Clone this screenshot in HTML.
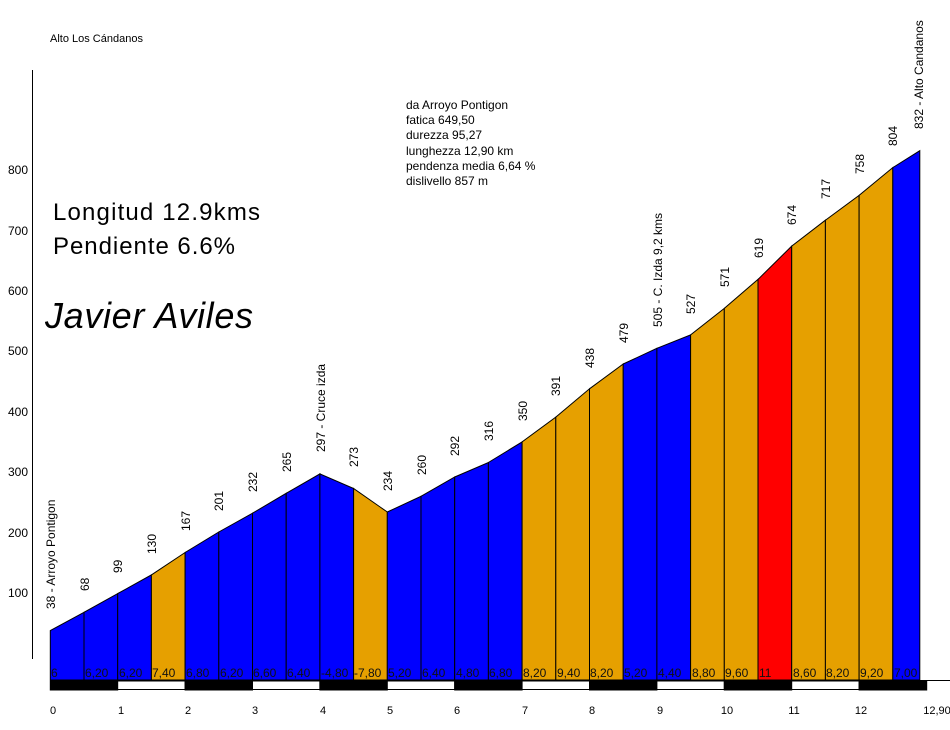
<!DOCTYPE html>
<html><head><meta charset="utf-8"><style>body{margin:0;background:#fff}svg{display:block}</style></head>
<body>
<svg width="950" height="730" viewBox="0 0 950 730" xmlns="http://www.w3.org/2000/svg" font-family="Liberation Sans, Arial, sans-serif">
<rect width="950" height="730" fill="#fff"/>
<text x="50" y="42" font-size="11">Alto Los Cándanos</text>
<line x1="32.5" y1="70" x2="32.5" y2="659" stroke="#000"/>
<g font-size="12" text-anchor="end">
<text x="28" y="597">100</text><text x="28" y="537">200</text><text x="28" y="476">300</text><text x="28" y="416">400</text>
<text x="28" y="355">500</text><text x="28" y="295">600</text><text x="28" y="235">700</text><text x="28" y="174">800</text>
</g>
<text x="53" y="220" font-size="24" textLength="207">Longitud 12.9kms</text>
<text x="53" y="254" font-size="24" textLength="182">Pendiente 6.6%</text>
<text x="45" y="328" font-size="36" font-style="italic" textLength="208">Javier Aviles</text>
<g font-size="12">
<text x="406" y="109">da Arroyo Pontigon</text>
<text x="406" y="124">fatica 649,50</text>
<text x="406" y="139">durezza 95,27</text>
<text x="406" y="155">lunghezza 12,90 km</text>
<text x="406" y="170">pendenza media 6,64 %</text>
<text x="406" y="185">dislivello 857 m</text>
</g>
<g stroke="#000" stroke-width="1">
<polygon points="50.3,680 50.3,630.5 84.0,612.3 84.0,680" fill="#0000ff"/>
<polygon points="84.0,680 84.0,612.3 117.7,593.6 117.7,680" fill="#0000ff"/>
<polygon points="117.7,680 117.7,593.6 151.4,574.9 151.4,680" fill="#0000ff"/>
<polygon points="151.4,680 151.4,574.9 185.1,552.5 185.1,680" fill="#e6a000"/>
<polygon points="185.1,680 185.1,552.5 218.8,532.0 218.8,680" fill="#0000ff"/>
<polygon points="218.8,680 218.8,532.0 252.5,513.2 252.5,680" fill="#0000ff"/>
<polygon points="252.5,680 252.5,513.2 286.2,493.3 286.2,680" fill="#0000ff"/>
<polygon points="286.2,680 286.2,493.3 319.9,473.9 319.9,680" fill="#0000ff"/>
<polygon points="319.9,680 319.9,473.9 353.6,488.5 353.6,680" fill="#0000ff"/>
<polygon points="353.6,680 353.6,488.5 387.3,512.0 387.3,680" fill="#e6a000"/>
<polygon points="387.3,680 387.3,512.0 421.0,496.3 421.0,680" fill="#0000ff"/>
<polygon points="421.0,680 421.0,496.3 454.7,477.0 454.7,680" fill="#0000ff"/>
<polygon points="454.7,680 454.7,477.0 488.4,462.5 488.4,680" fill="#0000ff"/>
<polygon points="488.4,680 488.4,462.5 522.1,441.9 522.1,680" fill="#0000ff"/>
<polygon points="522.1,680 522.1,441.9 555.8,417.1 555.8,680" fill="#e6a000"/>
<polygon points="555.8,680 555.8,417.1 589.5,388.8 589.5,680" fill="#e6a000"/>
<polygon points="589.5,680 589.5,388.8 623.2,364.0 623.2,680" fill="#e6a000"/>
<polygon points="623.2,680 623.2,364.0 656.9,348.3 656.9,680" fill="#0000ff"/>
<polygon points="656.9,680 656.9,348.3 690.6,334.9 690.6,680" fill="#0000ff"/>
<polygon points="690.6,680 690.6,334.9 724.3,308.4 724.3,680" fill="#e6a000"/>
<polygon points="724.3,680 724.3,308.4 758.0,279.4 758.0,680" fill="#e6a000"/>
<polygon points="758.0,680 758.0,279.4 791.7,246.1 791.7,680" fill="#ff0000"/>
<polygon points="791.7,680 791.7,246.1 825.4,220.2 825.4,680" fill="#e6a000"/>
<polygon points="825.4,680 825.4,220.2 859.1,195.4 859.1,680" fill="#e6a000"/>
<polygon points="859.1,680 859.1,195.4 892.8,167.6 892.8,680" fill="#e6a000"/>
<polygon points="892.8,680 892.8,167.6 919.8,150.7 919.8,680" fill="#0000ff"/>
</g>
<g font-size="12" fill="#111">
<text x="51" y="677">6</text><text x="85" y="677">6,20</text><text x="119" y="677">6,20</text><text x="152" y="677">7,40</text>
<text x="186" y="677">6,80</text><text x="220" y="677">6,20</text><text x="253" y="677">6,60</text><text x="287" y="677">6,40</text>
<text x="321" y="677">-4,80</text><text x="354" y="677">-7,80</text><text x="388" y="677">5,20</text><text x="422" y="677">6,40</text>
<text x="456" y="677">4,80</text><text x="489" y="677">6,80</text><text x="523" y="677">8,20</text><text x="557" y="677">9,40</text>
<text x="590" y="677">8,20</text><text x="624" y="677">5,20</text><text x="658" y="677">4,40</text><text x="692" y="677">8,80</text>
<text x="725" y="677">9,60</text><text x="759" y="677">11</text><text x="793" y="677">8,60</text><text x="826" y="677">8,20</text>
<text x="860" y="677">9,20</text><text x="894" y="677">7,00</text>
</g>
<line x1="50" y1="680.5" x2="950" y2="680.5" stroke="#000"/>
<g stroke="#000">
<rect x="50.3" y="681" width="67.4" height="9" fill="#000"/>
<rect x="117.7" y="681" width="67.4" height="8.5" fill="#fff"/>
<rect x="185.1" y="681" width="67.4" height="9" fill="#000"/>
<rect x="252.5" y="681" width="67.4" height="8.5" fill="#fff"/>
<rect x="319.9" y="681" width="67.4" height="9" fill="#000"/>
<rect x="387.3" y="681" width="67.4" height="8.5" fill="#fff"/>
<rect x="454.7" y="681" width="67.4" height="9" fill="#000"/>
<rect x="522.1" y="681" width="67.4" height="8.5" fill="#fff"/>
<rect x="589.5" y="681" width="67.4" height="9" fill="#000"/>
<rect x="656.9" y="681" width="67.4" height="8.5" fill="#fff"/>
<rect x="724.3" y="681" width="67.4" height="9" fill="#000"/>
<rect x="791.7" y="681" width="67.4" height="8.5" fill="#fff"/>
<rect x="859.1" y="681" width="67.6" height="9" fill="#000"/>
</g>
<g font-size="11" text-anchor="middle">
<text x="53" y="714">0</text><text x="121" y="714">1</text><text x="188" y="714">2</text><text x="255" y="714">3</text>
<text x="323" y="714">4</text><text x="390" y="714">5</text><text x="457" y="714">6</text><text x="525" y="714">7</text>
<text x="592" y="714">8</text><text x="660" y="714">9</text><text x="727" y="714">10</text><text x="794" y="714">11</text>
<text x="861" y="714">12</text><text x="937" y="714">12,90</text>
</g>
<g font-size="12">
<text transform="translate(55,609) rotate(-90)">38 - Arroyo Pontigon</text>
<text transform="translate(89,591) rotate(-90)">68</text>
<text transform="translate(122,573) rotate(-90)">99</text>
<text transform="translate(156,554) rotate(-90)">130</text>
<text transform="translate(190,531) rotate(-90)">167</text>
<text transform="translate(223,511) rotate(-90)">201</text>
<text transform="translate(257,492) rotate(-90)">232</text>
<text transform="translate(291,472) rotate(-90)">265</text>
<text transform="translate(325,452) rotate(-90)">297 - Cruce izda</text>
<text transform="translate(358,467) rotate(-90)">273</text>
<text transform="translate(392,491) rotate(-90)">234</text>
<text transform="translate(426,475) rotate(-90)">260</text>
<text transform="translate(459,456) rotate(-90)">292</text>
<text transform="translate(493,441) rotate(-90)">316</text>
<text transform="translate(527,421) rotate(-90)">350</text>
<text transform="translate(560,396) rotate(-90)">391</text>
<text transform="translate(594,368) rotate(-90)">438</text>
<text transform="translate(628,343) rotate(-90)">479</text>
<text transform="translate(662,327) rotate(-90)">505 - C. Izda 9,2 kms</text>
<text transform="translate(695,314) rotate(-90)">527</text>
<text transform="translate(729,287) rotate(-90)">571</text>
<text transform="translate(763,258) rotate(-90)">619</text>
<text transform="translate(796,225) rotate(-90)">674</text>
<text transform="translate(830,199) rotate(-90)">717</text>
<text transform="translate(864,174) rotate(-90)">758</text>
<text transform="translate(897,146) rotate(-90)">804</text>
<text transform="translate(923,129) rotate(-90)">832 - Alto Candanos</text>
</g>
</svg>
</body></html>
